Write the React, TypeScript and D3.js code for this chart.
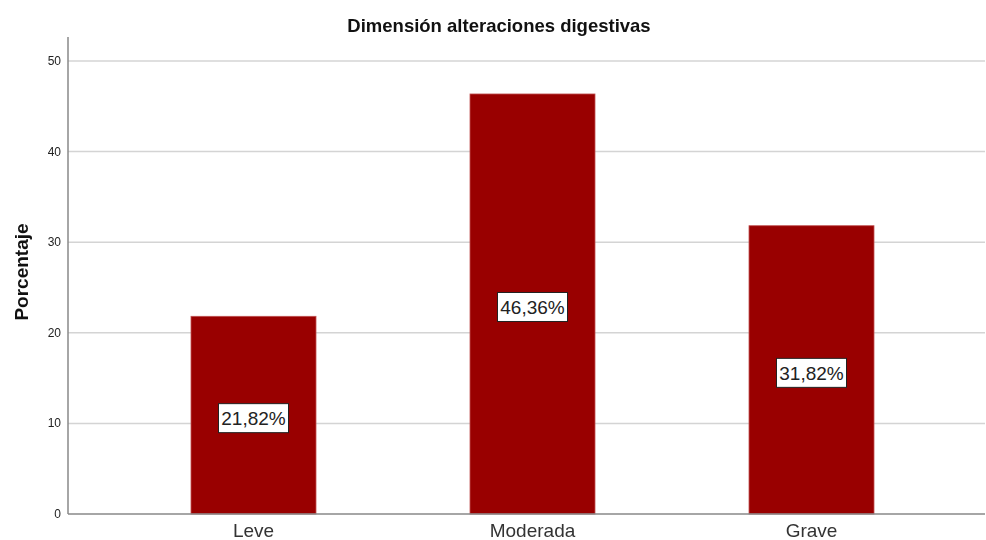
import { useEffect, useRef } from "react";
import * as d3 from "d3";

const categories = ["Leve", "Moderada", "Grave"];
const percents = [21.82, 46.36, 31.82];
const yTicks = [0, 10, 20, 30, 40, 50];

export default function App() {
  const svgRef = useRef<SVGSVGElement>(null);

  useEffect(() => {
    if (!svgRef.current) return;
    const width = 986;
    const height = 540;
    const plot = { left: 68, right: 985, top: 37, bottom: 514 };

    const svg = d3.select(svgRef.current);
    svg.selectAll("*").remove();
    svg.attr("width", width).attr("height", height).style("font-family", "'Liberation Sans', Arial, sans-serif");

    const y = d3.scaleLinear().domain([0, 50]).range([plot.bottom, 61]);
    const x = d3.scaleBand<string>().domain(categories).range([114, 951]).paddingInner(0.552).paddingOuter(0.276);

    // gridlines
    svg
      .append("g")
      .selectAll("line")
      .data(yTicks.filter((t) => t > 0))
      .join("line")
      .attr("x1", plot.left)
      .attr("x2", plot.right)
      .attr("y1", (d) => y(d))
      .attr("y2", (d) => y(d))
      .attr("stroke", "#d4d4d4")
      .attr("stroke-width", 1.5);

    // y tick labels
    svg
      .append("g")
      .selectAll("text")
      .data(yTicks)
      .join("text")
      .attr("x", plot.left - 7)
      .attr("y", (d) => y(d) + 4)
      .attr("text-anchor", "end")
      .attr("font-size", 12)
      .attr("fill", "#222")
      .text((d) => d);

    // bars
    svg
      .append("g")
      .selectAll("rect")
      .data(percents)
      .join("rect")
      .attr("x", (_, i) => x(categories[i])!)
      .attr("y", (d) => y(d))
      .attr("width", x.bandwidth())
      .attr("height", (d) => plot.bottom - y(d))
      .attr("fill", "#990000")
      .attr("stroke", "#c05050")
      .attr("stroke-width", 0.8);

    // value labels
    const lab = svg
      .append("g")
      .selectAll("g")
      .data(percents)
      .join("g")
      .attr("transform", (d, i) => `translate(${x(categories[i])! + x.bandwidth() / 2},${y(d / 2) + 3})`);
    lab
      .append("rect")
      .attr("x", -35)
      .attr("y", -14.5)
      .attr("width", 70)
      .attr("height", 29)
      .attr("fill", "#fff")
      .attr("stroke", "#222")
      .attr("stroke-width", 1);
    lab
      .append("text")
      .attr("text-anchor", "middle")
      .attr("y", 7)
      .attr("font-size", 19)
      .attr("fill", "#222")
      .text((d) => d.toFixed(2).replace(".", ",") + "%");

    // axes lines
    svg
      .append("line")
      .attr("x1", plot.left)
      .attr("x2", plot.left)
      .attr("y1", plot.top)
      .attr("y2", plot.bottom)
      .attr("stroke", "#888")
      .attr("stroke-width", 1.5);
    svg
      .append("line")
      .attr("x1", plot.left)
      .attr("x2", plot.right)
      .attr("y1", plot.bottom)
      .attr("y2", plot.bottom)
      .attr("stroke", "#888")
      .attr("stroke-width", 1.5);

    // x labels
    svg
      .append("g")
      .selectAll("text")
      .data(categories)
      .join("text")
      .attr("x", (d) => x(d)! + x.bandwidth() / 2)
      .attr("y", 537)
      .attr("text-anchor", "middle")
      .attr("font-size", 19)
      .attr("fill", "#333")
      .text((d) => d);

    svg
      .append("text")
      .attr("x", 499)
      .attr("y", 32)
      .attr("text-anchor", "middle")
      .attr("font-size", 18.5)
      .attr("font-weight", "bold")
      .attr("fill", "#111")
      .text("Dimensión alteraciones digestivas");

    svg
      .append("text")
      .attr("transform", "translate(28,272) rotate(-90)")
      .attr("text-anchor", "middle")
      .attr("font-size", 19)
      .attr("font-weight", "bold")
      .attr("fill", "#111")
      .text("Porcentaje");
  }, []);

  return (
    <div style={{ position: "fixed", left: 0, top: 0 }}>
      <svg ref={svgRef} />
    </div>
  );
}
